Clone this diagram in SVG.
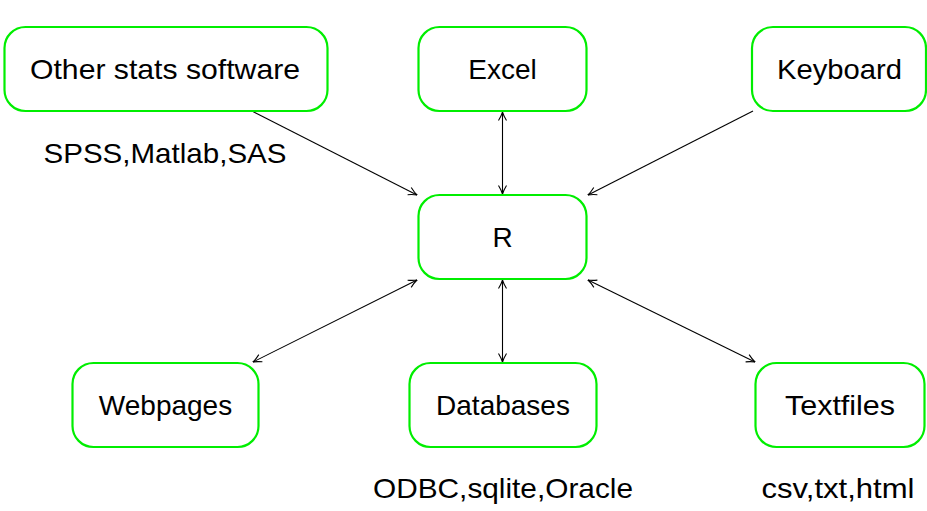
<svg xmlns="http://www.w3.org/2000/svg" width="927" height="511" viewBox="0 0 927 511">
<style>
.box{fill:#ffffff;stroke:#00ee00;stroke-width:2.2}
.lbl{font-family:"Liberation Sans",Arial,sans-serif;font-size:28px;fill:#000;text-anchor:middle}
.edge{stroke:#000;stroke-width:1.1;fill:none}
</style>
<defs>
<marker id="ah" viewBox="0 0 10 10" refX="9.5" refY="5" markerWidth="10" markerHeight="10" markerUnits="userSpaceOnUse" orient="auto-start-reverse">
<path d="M1,1 Q6,4 9.5,5 Q6,6 1,9" fill="none" stroke="#000" stroke-width="1.1"/>
</marker>
</defs>
<rect width="927" height="511" fill="#fff"/>
<g id="connectors">
<line class="edge" x1="252" y1="111" x2="417" y2="195" marker-end="url(#ah)"/>
<line class="edge" x1="502.5" y1="112" x2="502.5" y2="194" marker-start="url(#ah)" marker-end="url(#ah)"/>
<line class="edge" x1="753" y1="111" x2="588" y2="195" marker-end="url(#ah)"/>
<line class="edge" x1="253" y1="362" x2="417" y2="280" marker-start="url(#ah)" marker-end="url(#ah)"/>
<line class="edge" x1="502.5" y1="280" x2="502.5" y2="362" marker-start="url(#ah)" marker-end="url(#ah)"/>
<line class="edge" x1="588" y1="280" x2="755" y2="362" marker-start="url(#ah)" marker-end="url(#ah)"/>
</g>
<g id="node-other">
<rect class="box" x="4.5" y="27" width="323" height="84" rx="21"/>
<text class="lbl" x="165" y="79" textLength="270" lengthAdjust="spacingAndGlyphs">Other stats software</text>
<text class="lbl" x="165" y="163" textLength="243" lengthAdjust="spacingAndGlyphs">SPSS,Matlab,SAS</text>
</g>
<g id="node-excel">
<rect class="box" x="418.5" y="27" width="168" height="84" rx="21"/>
<text class="lbl" x="502.5" y="79">Excel</text>
</g>
<g id="node-keyboard">
<rect class="box" x="752" y="27" width="174" height="84" rx="21"/>
<text class="lbl" x="839.5" y="79" textLength="125" lengthAdjust="spacingAndGlyphs">Keyboard</text>
</g>
<g id="node-r">
<rect class="box" x="418.5" y="195" width="168" height="84" rx="21"/>
<text class="lbl" x="502.5" y="247">R</text>
</g>
<g id="node-webpages">
<rect class="box" x="72.5" y="363" width="186" height="84" rx="21"/>
<text class="lbl" x="165.5" y="415">Webpages</text>
</g>
<g id="node-databases">
<rect class="box" x="409.5" y="363" width="187" height="84" rx="21"/>
<text class="lbl" x="503" y="415">Databases</text>
<text class="lbl" x="503" y="498" textLength="260" lengthAdjust="spacingAndGlyphs">ODBC,sqlite,Oracle</text>
</g>
<g id="node-textfiles">
<rect class="box" x="755.5" y="363" width="169" height="84" rx="21"/>
<text class="lbl" x="840" y="415" textLength="110" lengthAdjust="spacingAndGlyphs">Textfiles</text>
<text class="lbl" x="838" y="498" textLength="153" lengthAdjust="spacingAndGlyphs">csv,txt,html</text>
</g>
</svg>
